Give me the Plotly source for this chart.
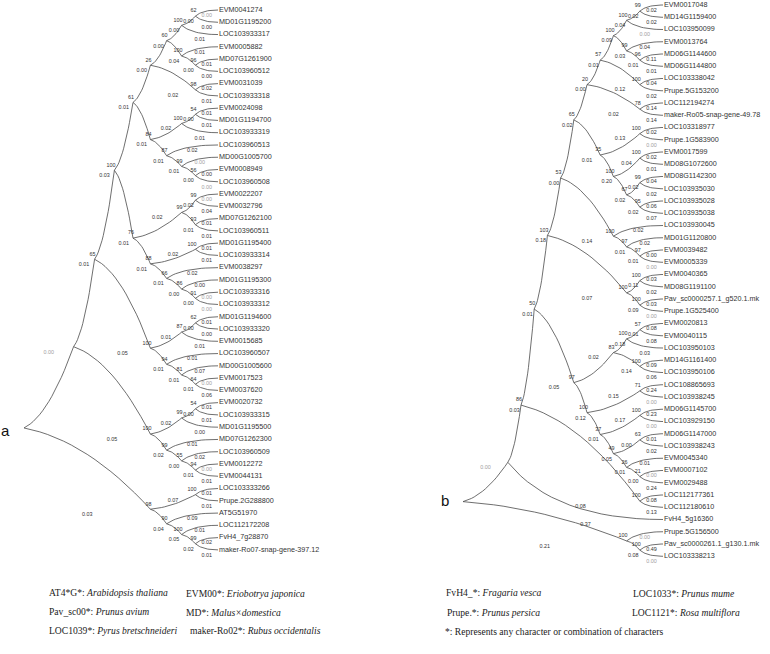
import plotly.graph_objects as go

# ---- tree a : leaves top to bottom, branch length of each leaf edge ----
A_LEAVES = ["EVM0041274", "MD01G1195200", "LOC103933317", "EVM0005882", "MD07G1261900",
            "LOC103960512", "EVM0031039", "LOC103933318", "EVM0024098", "MD01G1194700",
            "LOC103933319", "LOC103960513", "MD00G1005700", "EVM0008949", "LOC103960508",
            "EVM0022207", "EVM0032796", "MD07G1262100", "LOC103960511", "MD01G1195400",
            "LOC103933314", "EVM0038297", "MD01G1195300", "LOC103933316", "LOC103933312",
            "MD01G1194600", "LOC103933320", "EVM0015685", "LOC103960507", "MD00G1005600",
            "EVM0017523", "EVM0037620", "EVM0020732", "LOC103933315", "MD01G1195500",
            "MD07G1262300", "LOC103960509", "EVM0012272", "EVM0044131", "LOC103333266",
            "Prupe.2G288800", "AT5G51970", "LOC112172208", "FvH4_7g28870",
            "maker-Ro07-snap-gene-397.12"]
A_LEAF_LEN = [0.0, 0.003, 0.01, 0.01, 0.01, 0.003, 0.02, 0.01, 0.01, 0.01,
              0.01, 0.02, 0.0, 0.003, 0.0, 0.0, 0.04, 0.01, 0.01, 0.01,
              0.01, 0.02, 0.003, 0.0, 0.0, 0.01, 0.003, 0.01, 0.01, 0.07,
              0.0, 0.06, 0.01, 0.01, 0.003, 0.01, 0.02, 0.0, 0.01, 0.01,
              0.01, 0.09, 0.01, 0.02, 0.01]
# clade, child 1, child 2, bootstrap, branch length
A_CLADES = [
    ("L1", "EVM0041274", "MD01G1195200", 62, 0.003),
    ("L2", "L1", "LOC103933317", 100, 0.003),
    ("L4", "MD07G1261900", "LOC103960512", 96, 0.003),
    ("L3", "EVM0005882", "L4", 100, 0.04),
    ("L5", "L2", "L3", 60, 0.003),
    ("L6", "EVM0031039", "LOC103933318", 98, 0.02),
    ("L7", "L5", "L6", 26, 0.003),
    ("L8", "EVM0024098", "MD01G1194700", 54, 0.003),
    ("L9", "L8", "LOC103933319", 100, 0.02),
    ("L12", "EVM0008949", "LOC103960508", 56, 0.003),
    ("L11", "MD00G1005700", "L12", 99, 0.01),
    ("L10", "LOC103960513", "L11", 87, 0.01),
    ("L13", "L9", "L10", 84, 0.01),
    ("L14", "L7", "L13", 61, 0.01),
    ("L15", "EVM0022207", "EVM0032796", 99, 0.02),
    ("L16", "MD07G1262100", "LOC103960511", 93, 0.01),
    ("L17", "L15", "L16", 99, 0.02),
    ("L18", "MD01G1195400", "LOC103933314", 100, 0.02),
    ("L21", "LOC103933316", "LOC103933312", 91, 0.003),
    ("L20", "MD01G1195300", "L21", 86, 0.003),
    ("L19", "EVM0038297", "L20", 66, 0.01),
    ("L22", "L18", "L19", 88, 0.01),
    ("L23", "L17", "L22", 76, 0.01),
    ("L24", "L14", "L23", 100, 0.03),
    ("L27", "MD01G1194600", "LOC103933320", 62, 0.003),
    ("L26", "L27", "EVM0015685", 87, 0.01),
    ("L30", "EVM0017523", "EVM0037620", 64, 0.01),
    ("L29", "MD00G1005600", "L30", 81, 0.01),
    ("L28", "LOC103960507", "L29", 94, 0.01),
    ("L25", "L26", "L28", 100, 0.05),
    ("L31", "L24", "L25", 65, 0.01),
    ("L33", "EVM0020732", "LOC103933315", 54, 0.003),
    ("L32", "L33", "MD01G1195500", 99, 0.02),
    ("L36", "EVM0012272", "EVM0044131", 94, 0.01),
    ("L35", "LOC103960509", "L36", 55, 0.003),
    ("L34", "MD07G1262300", "L35", 99, 0.02),
    ("L37", "L32", "L34", 100, 0.05),
    ("A", "L31", "L37", None, 0.0),
    ("L38", "LOC103333266", "Prupe.2G288800", 100, 0.07),
    ("L39", "FvH4_7g28870", "maker-Ro07-snap-gene-397.12", 99, 0.02),
    ("L40", "LOC112172208", "L39", 100, 0.05),
    ("L41", "AT5G51970", "L40", 90, 0.04),
    ("B", "L38", "L41", 98, 0.03),
    ("root", "A", "B", None, None),
]

# ---- tree b ----
B_LEAVES = ["EVM0017048", "MD14G1159400", "LOC103950099", "EVM0013764", "MD06G1144600",
            "MD06G1144800", "LOC103338042", "Prupe.5G153200", "LOC112194274",
            "maker-Ro05-snap-gene-49.78", "LOC103318977", "Prupe.1G583900", "EVM0017599",
            "MD08G1072600", "MD08G1142300", "LOC103935030", "LOC103935028", "LOC103935038",
            "LOC103930045", "MD01G1120800", "EVM0039482", "EVM0005339", "EVM0040365",
            "MD08G1191100", "Pav_sc0000257.1_g520.1.mk", "Prupe.1G525400", "EVM0020813",
            "EVM0040115", "LOC103950103", "MD14G1161400", "LOC103950106", "LOC108865693",
            "LOC103938245", "MD06G1145700", "LOC103929150", "MD06G1147000", "LOC103938243",
            "EVM0045340", "EVM0007102", "EVM0029488", "LOC112177361", "LOC112180610",
            "FvH4_5g16360", "Prupe.5G156500", "Pav_sc0000261.1_g130.1.mk", "LOC103338213"]
B_LEAF_LEN = [0.02, 0.02, 0.0, 0.04, 0.11, 0.01, 0.04, 0.02, 0.14, 0.14,
              0.02, 0.0, 0.02, 0.01, 0.04, 0.02, 0.06, 0.07, 0.02, 0.02,
              0.003, 0.0, 0.03, 0.02, 0.03, 0.0, 0.08, 0.08, 0.03, 0.09,
              0.06, 0.24, 0.0, 0.23, 0.0, 0.01, 0.02, 0.01, 0.0, 0.24,
              0.08, 0.13, 0.37, 0.0, 0.49, 0.0]
B_CLADES = [
    ("N1", "EVM0017048", "MD14G1159400", 99, 0.02),
    ("N2", "N1", "LOC103950099", 100, 0.04),
    ("N5", "MD06G1144600", "MD06G1144800", 96, 0.01),
    ("N4", "EVM0013764", "N5", 99, 0.03),
    ("N3", "N2", "N4", 100, 0.09),
    ("N7", "LOC103338042", "Prupe.5G153200", 100, 0.12),
    ("N6", "N3", "N7", 57, 0.01),
    ("N9", "LOC112194274", "maker-Ro05-snap-gene-49.78", 78, 0.02),
    ("N8", "N6", "N9", 20, 0.003),
    ("N12", "LOC103318977", "Prupe.1G583900", 100, 0.13),
    ("N14", "EVM0017599", "MD08G1072600", 100, 0.04),
    ("N16", "MD08G1142300", "LOC103935030", 99, 0.02),
    ("N18", "LOC103935028", "LOC103935038", 95, 0.02),
    ("N15", "N16", "N18", 67, 0.02),
    ("N13", "N14", "N15", 100, 0.20),
    ("N11", "N12", "N13", 35, 0.01),
    ("N10", "N8", "N11", 65, 0.02),
    ("N22", "EVM0039482", "EVM0005339", 97, 0.01),
    ("N21", "MD01G1120800", "N22", 97, 0.01),
    ("N20", "LOC103930045", "N21", 100, 0.14),
    ("N53", "N10", "N20", 53, 0.003),
    ("N24", "EVM0040365", "MD08G1191100", 100, 0.11),
    ("N25", "Pav_sc0000257.1_g520.1.mk", "Prupe.1G525400", 100, 0.09),
    ("N23", "N24", "N25", 100, 0.07),
    ("N103", "N53", "N23", 103, 0.18),
    ("N28a", "EVM0020813", "EVM0040115", 57, 0.01),
    ("N28", "N28a", "LOC103950103", 100, 0.18),
    ("N29", "MD14G1161400", "LOC103950106", 100, 0.14),
    ("N27", "N28", "N29", 83, 0.02),
    ("N31", "LOC108865693", "LOC103938245", 71, 0.15),
    ("N33", "MD06G1145700", "LOC103929150", 100, 0.17),
    ("N35", "MD06G1147000", "LOC103938243", 63, 0.003),
    ("N37", "EVM0007102", "EVM0029488", 21, 0.003),
    ("N36", "EVM0045340", "N37", 26, 0.01),
    ("N34", "N35", "N36", 49, 0.05),
    ("N32", "N33", "N34", 37, 0.01),
    ("N30", "N31", "N32", 100, 0.12),
    ("N26", "N27", "N30", 97, 0.05),
    ("N50", "N103", "N26", 50, 0.01),
    ("N38", "LOC112177361", "LOC112180610", 100, 0.08),
    ("N86", "N50", "N38", 86, 0.03),
    ("X", "N86", "FvH4_5g16360", None, 0.0),
    ("N40", "Pav_sc0000261.1_g130.1.mk", "LOC103338213", 100, 0.08),
    ("N39", "Prupe.5G156500", "N40", 100, 0.21),
    ("root", "X", "N39", None, None),
]

LEGEND_PREFIX = ["AT4*G*", "Pav_sc00*", "LOC1039*", "EVM00*", "MD*", "maker-Ro02*",
                 "FvH4_*", "Prupe.*", "LOC1033*", "LOC1121*"]
LEGEND_SPECIES = ["Arabidopsis thaliana", "Prunus avium", "Pyrus bretschneideri",
                  "Eriobotrya japonica", "Malus×domestica", "Rubus occidentalis",
                  "Fragaria vesca", "Prunus persica", "Prunus mume", "Rosa multiflora"]
FOOTNOTE = "*: Represents any character or combination of characters"

SANS = "Liberation Sans, Arial, sans-serif"
SERIF = "Liberation Serif, Times New Roman, serif"
LINE_COL = "#4a4a4a"
TXT_COL = "#333333"
GREY_COL = "#a0a0a0"


def layout_tree(leaves, clades, top, gap, leaf_x, root_x, offset):
    # cladogram: leaves aligned, node x from its height, y = mean of children
    pos, height = {}, {}
    for i, name in enumerate(leaves):
        pos[name] = (leaf_x, top + i * gap)
        height[name] = 0
    for name, c1, c2, boot, bl in clades:
        h = 1 + max(height[c1], height[c2])
        height[name] = h
        x = root_x if name == "root" else leaf_x - offset(h)
        pos[name] = (x, (pos[c1][1] + pos[c2][1]) / 2)
    return pos


def curve(p, c, leaf):
    # quadratic bezier, leaf edges finish flat
    px, py = p
    cx, cy = c
    dx, dy = cx - px, cy - py
    if leaf:
        kx, ky = px + 0.3 * dx, cy
    else:
        kx, ky = px + 0.5 * dx, py + 0.15 * dy
    xs, ys = [], []
    for i in range(17):
        t = i / 16
        xs.append((1 - t) ** 2 * px + 2 * t * (1 - t) * kx + t * t * cx)
        ys.append((1 - t) ** 2 * py + 2 * t * (1 - t) * ky + t * t * cy)
    return xs, ys


trees = [
    (A_LEAVES, A_LEAF_LEN, A_CLADES, 10, 12.27, 218, 24, lambda h: 10 + 12 * h + 0.6 * h * h),
    (B_LEAVES, B_LEAF_LEN, B_CLADES, 5, 12.25, 663, 463, lambda h: 10 + 13.2 * h),
]

ex, ey = [], []
leaf_x, leaf_y, leaf_t = [], [], []
boot_x, boot_y, boot_t = [], [], []
len_x, len_y, len_t = [], [], []
glen_x, glen_y, glen_t = [], [], []

for leaves, leaf_len, clades, top, gap, lx, rx, off in trees:
    pos = layout_tree(leaves, clades, top, gap, lx, rx, off)
    blen = dict(zip(leaves, leaf_len))
    for name, c1, c2, boot, bl in clades:
        blen[name] = bl
    for name in leaves:
        leaf_x.append(pos[name][0] + 1)
        leaf_y.append(pos[name][1])
        leaf_t.append(name)
    for name, c1, c2, boot, bl in clades:
        p = pos[name]
        for ch in (c1, c2):
            xs, ys = curve(p, pos[ch], ch in leaves)
            ex += xs + [None]
            ey += ys + [None]
            mx = (p[0] + pos[ch][0]) / 2
            my = pos[ch][1] + 5.5
            v = blen[ch]
            if v == 0:
                glen_x.append(mx); glen_y.append(my); glen_t.append("0.00")
            else:
                len_x.append(mx); len_y.append(my); len_t.append(f"{v:.2f}")
        if boot is not None:
            boot_x.append(p[0] + 1)
            boot_y.append(p[1] - 5)
            boot_t.append(str(boot))

fig = go.Figure()
fig.add_trace(go.Scatter(x=ex, y=ey, mode="lines", line=dict(color=LINE_COL, width=0.8),
                         hoverinfo="skip"))
fig.add_trace(go.Scatter(x=leaf_x, y=leaf_y, text=leaf_t, mode="text", textposition="middle right",
                         textfont=dict(family=SANS, size=7.2, color=TXT_COL), cliponaxis=False))
fig.add_trace(go.Scatter(x=boot_x, y=boot_y, text=boot_t, mode="text", textposition="middle left",
                         textfont=dict(family=SANS, size=5.4, color=TXT_COL), cliponaxis=False))
fig.add_trace(go.Scatter(x=len_x, y=len_y, text=len_t, mode="text", textposition="middle center",
                         textfont=dict(family=SANS, size=5.4, color=TXT_COL), cliponaxis=False))
fig.add_trace(go.Scatter(x=glen_x, y=glen_y, text=glen_t, mode="text", textposition="middle center",
                         textfont=dict(family=SANS, size=5.4, color=GREY_COL), cliponaxis=False))

# panel letters
for letter, x, y in [("a", 5, 430), ("b", 445, 500)]:
    fig.add_annotation(x=x, y=y, text=letter, showarrow=False, xanchor="center",
                       font=dict(family=SANS, size=15, color="#111"))

# species key
col_x = [47, 47, 47, 184, 184, 188, 444, 445, 631, 630]
row_y = [592, 611, 630, 593, 612, 630, 592, 612, 593, 612]
for pre, sp, x, y in zip(LEGEND_PREFIX, LEGEND_SPECIES, col_x, row_y):
    fig.add_annotation(x=x, y=y, text=f"{pre}: <i>{sp}</i>", showarrow=False, xanchor="left",
                       font=dict(family=SERIF, size=9.6, color="#222"))
fig.add_annotation(x=443, y=631, text=FOOTNOTE, showarrow=False, xanchor="left",
                   font=dict(family=SERIF, size=9.6, color="#222"))

fig.update_layout(width=770, height=654, margin=dict(l=0, r=0, t=0, b=0, pad=0),
                  showlegend=False, plot_bgcolor="white", paper_bgcolor="white",
                  hovermode=False)
fig.update_xaxes(range=[0, 770], visible=False, fixedrange=True)
fig.update_yaxes(range=[654, 0], visible=False, fixedrange=True)

# the page body has an 8px default margin, drop it so the figure fills the window
fig.write_html("out.html", config={"displayModeBar": False},
               post_script="document.body.style.margin = '0';")
